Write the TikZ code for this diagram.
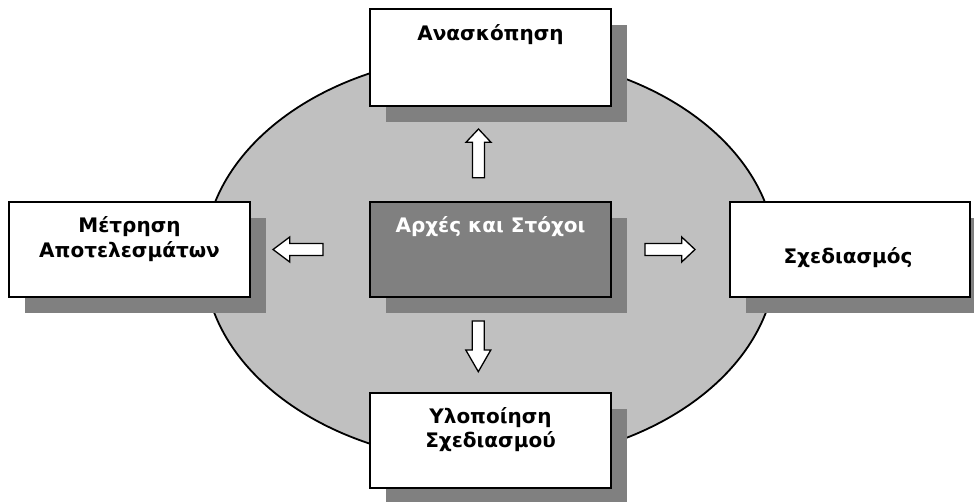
\documentclass[tikz,border=0pt]{standalone}
\usepackage{fontspec}
\setmainfont{DejaVu Sans}
\usepackage{tikz}
\usetikzlibrary{positioning, shadows}

\definecolor{ovalgray}{RGB}{192,192,192}
\definecolor{shadegray}{RGB}{128,128,128}

\tikzset{
	box/.style = {draw, line width=2pt, fill=white, inner sep=0pt,
		minimum width=241pt, minimum height=95pt,
		drop shadow={shadow xshift=16pt, shadow yshift=-16pt, fill=shadegray, opacity=1}},
	lbl/.style = {font=\bfseries\fontsize{20}{24.3}\selectfont, align=center, inner sep=0pt},
	hollow/.style = {draw, line width=1.3pt, fill=white, line join=miter}
}

% tail, angle, length, head length
\newcommand{\hollowarrow}[4]{%
	\draw[hollow, shift={#1}, rotate=#2] (0,-6) -- ({#3-#4},-6) -- ({#3-#4},-12.5)
		-- (#3,0) -- ({#3-#4},12.5) -- ({#3-#4},6) -- (0,6) -- cycle;}

\begin{document}
\begin{tikzpicture}[x=1pt, y=-1pt]
	\useasboundingbox (0,0) rectangle (974,502);

	\draw [line width=1.8pt, fill=ovalgray] (490,258.5) ellipse [x radius=286, y radius=204];

	% boxes
	\node [box, minimum height=97pt] (review) at (490.5,57.5) {};
	\node [box, fill=shadegray] (goals) at (490.5,249.5) {};
	\node [box] (measure) at (129.5,249.5) {};
	\node [box, minimum width=240pt] (design) at (850,249.5) {};
	\node [box] (implement) at (490.5,440.5) {};

	% texts
	\node [lbl, anchor=base, yshift=-33pt] (reviewtxt) at (review.north) {Ανασκόπηση};
	\node [lbl, anchor=base, yshift=-31.5pt, text=white] (goalstxt) at (goals.north) {Αρχές και Στόχοι};
	\node [lbl, anchor=base, yshift=-56.3pt] (measuretxt) at (measure.north) {Μέτρηση\\Αποτελεσμάτων};
	\node [lbl, anchor=base, yshift=-63pt, xshift=-2pt] (designtxt) at (design.north) {Σχεδιασμός};
	\node [lbl, anchor=base, yshift=-55.3pt] (implementtxt) at (implement.north) {Υλοποίηση\\Σχεδιασμού};

	% arrows
	\hollowarrow{(478.5,177.7)}{90}{48.7}{13.3}
	\hollowarrow{(478.3,321)}{-90}{50.7}{21.7}
	\hollowarrow{(323,249.5)}{180}{50}{16.7}
	\hollowarrow{(645,249.5)}{0}{50}{13.3}
\end{tikzpicture}
\end{document}
